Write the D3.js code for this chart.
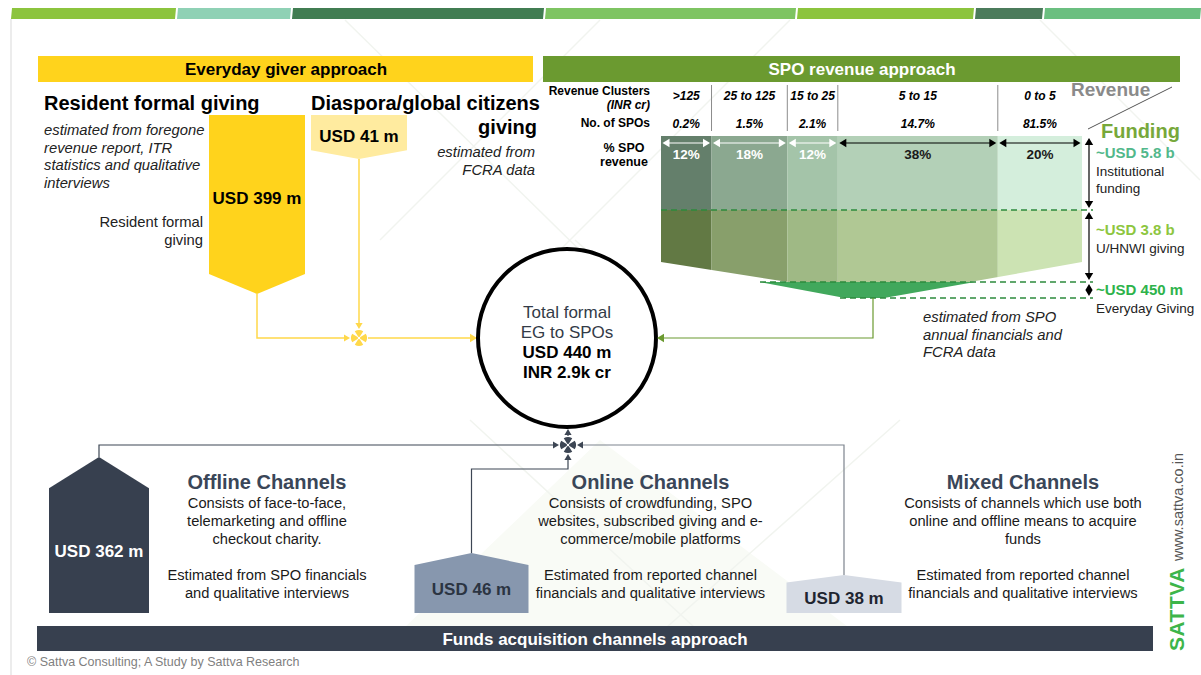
<!DOCTYPE html>
<html>
<head>
<meta charset="utf-8">
<script src="https://cdn.jsdelivr.net/npm/d3@7"></script>
<style>
body { margin: 0; background: #fff; }
svg text { font-family: "Liberation Sans", Arial, sans-serif; }
</style>
</head>
<body>
<script>
// ---- data ----
var egSources = ['Resident formal giving', 'Diaspora/global citizens giving'];
var egValues = [399, 41];
var clusters = ['>125', '25 to 125', '15 to 25', '5 to 15', '0 to 5'];
var spoShare = [0.2, 1.5, 2.1, 14.7, 81.5];
var revenueShare = [12, 18, 12, 38, 20];
var fundingLabels = ['~USD 5.8 b', '~USD 3.8 b', '~USD 450 m'];
var fundingNames = [['Institutional', 'funding'], ['U/HNWI giving'], ['Everyday Giving']];
var fundingValues = [5800, 3800, 450];
var channels = ['Offline Channels', 'Online Channels', 'Mixed Channels'];
var channelValues = [362, 46, 38];
var channelDesc = [
  ['Consists of face-to-face,', 'telemarketing and offline', 'checkout charity.', '', 'Estimated from SPO financials', 'and qualitative interviews'],
  ['Consists of crowdfunding, SPO', 'websites, subscribed giving and e-', 'commerce/mobile platforms', '', 'Estimated from reported channel', 'financials and qualitative interviews'],
  ['Consists of channels which use both', 'online and offline means to acquire', 'funds', '', 'Estimated from reported channel', 'financials and qualitative interviews']
];
var totalLines = ['Total formal', 'EG to SPOs', 'USD 440 m', 'INR 2.9k cr'];

// ---- layout ----
var W = 1201, H = 675;
var svg = d3.select('body').append('svg')
  .attr('width', W)
  .attr('height', H);

var line = d3.line();

function arrowHead(g, x, y, dir, color, s) {
  s = s || 6;
  var w = s * 0.6, pts;
  if (dir === 'r') pts = [[x, y], [x - s, y - w], [x - s, y + w]];
  if (dir === 'l') pts = [[x, y], [x + s, y - w], [x + s, y + w]];
  if (dir === 'u') pts = [[x, y], [x - w, y + s], [x + w, y + s]];
  if (dir === 'd') pts = [[x, y], [x - w, y - s], [x + w, y - s]];
  g.append('path').attr('d', line(pts) + 'Z').attr('fill', color);
}

function junction(g, cx, cy, color) {
  var arc = d3.arc().innerRadius(1.2).outerRadius(8);
  [0, 90, 180, 270].forEach(function(a) {
    g.append('path')
      .attr('transform', 'translate(' + cx + ',' + cy + ')')
      .attr('d', arc({startAngle: (a - 32) * Math.PI / 180, endAngle: (a + 32) * Math.PI / 180}))
      .attr('fill', color);
  });
}

function textLines(g, lines, x, y, step, anchor, attrs) {
  var t = g.append('text').attr('text-anchor', anchor);
  Object.keys(attrs).forEach(function(k) { t.style(k, attrs[k]); });
  lines.forEach(function(l, i) {
    t.append('tspan').attr('x', x).attr('y', y + i * step).text(l);
  });
  return t;
}

// background decoration
var bg = svg.append('g');
bg.append('path').attr('d', line([[380, 651], [600, 440], [880, 651]]) + 'Z').attr('fill', '#f9fbf6');
[[[345, 20], [600, 270]], [[600, 20], [380, 240]], [[790, 20], [560, 250]], [[1040, 20], [1200, 180]],
 [[470, 420], [720, 651]], [[900, 420], [640, 651]], [[575, 240], [620, 280]]].forEach(function(p) {
  bg.append('path').attr('d', line(p)).attr('stroke', '#f1f4ef').attr('stroke-width', 1.5).attr('fill', 'none');
});

// top stripe + frame
var stripeStops = [11, 176, 291, 544, 796, 974, 1043, 1201];
var stripeColors = ['#8cc43e', '#8fd1b5', '#417d52', '#7ec462', '#8cc43e', '#4b7b5b', '#6bbf80'];
stripeColors.forEach(function(c, i) {
  var x0 = stripeStops[i] + (i ? 1 : 0), x1 = stripeStops[i + 1] - 1;
  svg.append('path').attr('d', line([[x0 + 1, 8], [x1 + 1, 8], [x1, 19], [x0, 19]]) + 'Z').attr('fill', c);
});
svg.append('line').attr('x1', 11).attr('x2', 11).attr('y1', 19).attr('y2', H)
  .attr('stroke', '#d9d9d9').attr('stroke-width', 1);

// ===== Everyday giver approach =====
var eg = svg.append('g');
eg.append('rect').attr('x', 38).attr('y', 56).attr('width', 495).attr('height', 26).attr('fill', '#ffd31c');
eg.append('text').attr('x', 286).attr('y', 75).attr('text-anchor', 'middle')
  .style('font-weight', 'bold').style('font-size', '17px').text('Everyday giver approach');

eg.append('text').attr('x', 44).attr('y', 110).style('font-weight', 'bold').style('font-size', '20px').text(egSources[0]);
textLines(eg, ['estimated from foregone', 'revenue report, ITR', 'statistics and qualitative', 'interviews'],
  44, 135, 17.5, 'start', {'font-style': 'italic', 'font-size': '14.8px', 'fill': '#222'});
textLines(eg, ['Resident formal', 'giving'], 203, 227, 18, 'end', {'font-size': '14.8px', 'fill': '#222'});

eg.append('text').attr('x', 311).attr('y', 110).style('font-weight', 'bold').style('font-size', '20px').text('Diaspora/global citizens');
eg.append('text').attr('x', 537).attr('y', 134).attr('text-anchor', 'end').style('font-weight', 'bold').style('font-size', '20px').text('giving');
textLines(eg, ['estimated from', 'FCRA data'], 535, 157, 18, 'end', {'font-style': 'italic', 'font-size': '14.8px', 'fill': '#222'});

var egH = d3.scaleLinear().domain([41, 399]).range([44, 179]);
var egLeft = [209, 311], egW = 96, egTop = 115, egFill = ['#ffd31c', '#ffeb9f'];
var egTips = [];
egValues.forEach(function(v, i) {
  var h = egH(v), x0 = egLeft[i], x1 = x0 + egW, cx = x0 + egW / 2;
  var depth = Math.min(20, 0.2 * h), sh = egTop + h - depth;
  eg.append('path').attr('d', line([[x0, egTop], [x1, egTop], [x1, sh], [cx, egTop + h], [x0, sh]]) + 'Z')
    .attr('fill', egFill[i]);
  eg.append('text').attr('x', cx).attr('y', (egTop + sh) / 2 + 9).attr('text-anchor', 'middle')
    .style('font-weight', 'bold').style('font-size', '17px').text('USD ' + v + ' m');
  egTips.push([cx, egTop + h]);
});

// yellow connectors
var jY = 338, jX = egTips[1][0];
var yel = '#ffd84a';
eg.append('path').attr('d', line([egTips[0], [egTips[0][0], jY], [jX - 11, jY]]))
  .attr('fill', 'none').attr('stroke', yel).attr('stroke-width', 1.5);
arrowHead(eg, jX - 9, jY, 'r', yel, 6);
eg.append('path').attr('d', line([egTips[1], [jX, jY - 11]]))
  .attr('fill', 'none').attr('stroke', yel).attr('stroke-width', 1.5);
arrowHead(eg, jX, jY - 9, 'd', yel, 6);
junction(eg, jX, jY, yel);

// ===== centre circle =====
var cX = 567, cY = 338, cR = 89;
eg.append('path').attr('d', line([[jX + 9, jY], [cX - cR - 6, jY]])).attr('stroke', yel).attr('stroke-width', 1.5);
arrowHead(eg, cX - cR - 1, jY, 'r', yel, 7);

var ctr = svg.append('g');
ctr.append('circle').attr('cx', cX).attr('cy', cY).attr('r', cR)
  .attr('fill', '#fff').attr('stroke', '#000').attr('stroke-width', 4);
totalLines.forEach(function(t, i) {
  ctr.append('text').attr('x', cX).attr('y', 318 + i * 20).attr('text-anchor', 'middle')
    .style('font-size', '17px')
    .style('font-weight', i > 1 ? 'bold' : 'normal')
    .style('fill', i > 1 ? '#000' : '#333b47')
    .text(t);
});

// ===== SPO revenue approach =====
var spo = svg.append('g');
spo.append('rect').attr('x', 543).attr('y', 56).attr('width', 637).attr('height', 26).attr('fill', '#6b9a30');
spo.append('text').attr('x', 862).attr('y', 75).attr('text-anchor', 'middle')
  .style('font-weight', 'bold').style('font-size', '17px').style('fill', '#fff').text('SPO revenue approach');

spo.append('text').attr('x', 650).attr('y', 95).attr('text-anchor', 'end')
  .style('font-weight', 'bold').style('font-size', '12px').text('Revenue Clusters');
spo.append('text').attr('x', 650).attr('y', 109).attr('text-anchor', 'end')
  .style('font-weight', 'bold').style('font-style', 'italic').style('font-size', '12px').text('(INR cr)');
spo.append('text').attr('x', 650).attr('y', 127).attr('text-anchor', 'end')
  .style('font-weight', 'bold').style('font-size', '12px').text('No. of SPOs');
textLines(spo, ['% SPO', 'revenue'], 624, 152, 14, 'middle', {'font-weight': 'bold', 'font-size': '12.5px'});

var cum = d3.cumsum(revenueShare);
var fx = d3.scaleLinear().domain([0, 100]).range([661, 1082]);
var bounds = [0].concat(Array.from(cum));

// funding bands vertical scale
var fH = d3.scaleLinear().domain([450, 3800, 5800]).range([16, 72, 74]);
var fTop = 136;
var fY = [fTop];
fundingValues.forEach(function(v) { fY.push(fY[fY.length - 1] + fH(v)); });

// everyday giving wedge (behind bands)
spo.append('path').attr('d', line([[760, fY[2]], [975, fY[2]], [884, fY[3]], [845, fY[3]]]) + 'Z')
  .attr('fill', '#41a85c');

var upperCol = ['#647f6b', '#8ba890', '#a4c4a9', '#b3d0b7', '#d4eedc'];
var lowerCol = ['#627944', '#889f6b', '#9fb985', '#b0c894', '#cce3b3'];
var defs = svg.append('defs');
defs.append('clipPath').attr('id', 'lowClip').append('path')
  .attr('d', line([[fx(0), fY[1]], [fx(100), fY[1]], [fx(100), fY[2] - 20], [970, fY[2]], [788, fY[2]], [fx(0), fY[2] - 20]]) + 'Z');
var low = spo.append('g').attr('clip-path', 'url(#lowClip)');

clusters.forEach(function(c, i) {
  var x0 = fx(bounds[i]), x1 = fx(bounds[i + 1]), cx = (x0 + x1) / 2;
  spo.append('rect').attr('x', x0).attr('y', fY[0]).attr('width', x1 - x0).attr('height', fY[1] - fY[0]).attr('fill', upperCol[i]);
  low.append('rect').attr('x', x0).attr('y', fY[1]).attr('width', x1 - x0).attr('height', fY[2] - fY[1]).attr('fill', lowerCol[i]);
  spo.append('text').attr('x', cx).attr('y', 100).attr('text-anchor', 'middle')
    .style('font-weight', 'bold').style('font-style', 'italic').style('font-size', '12px').text(c);
  spo.append('text').attr('x', cx).attr('y', 128).attr('text-anchor', 'middle')
    .style('font-weight', 'bold').style('font-style', 'italic').style('font-size', '12px').text(spoShare[i] + '%');
  if (i > 0) {
    spo.append('line').attr('x1', x0).attr('x2', x0).attr('y1', 85).attr('y2', 131)
      .attr('stroke', '#8c8c8c').attr('stroke-width', 1);
  }
  var col = i < 3 ? '#fff' : '#000';
  spo.append('line').attr('x1', x0 + 3).attr('x2', x1 - 3).attr('y1', 143).attr('y2', 143)
    .attr('stroke', col).attr('stroke-width', 1.2);
  arrowHead(spo, x0 + 1.5, 143, 'l', col, 7);
  arrowHead(spo, x1 - 1.5, 143, 'r', col, 7);
  spo.append('text').attr('x', cx).attr('y', 159).attr('text-anchor', 'middle')
    .style('font-weight', 'bold').style('font-size', '13.5px').style('fill', i < 3 ? '#fff' : '#1a1a1a')
    .text(revenueShare[i] + '%');
});

// dashed band separators
var dashStart = [fx(0), 760, 840];
[1, 2, 3].forEach(function(k, j) {
  spo.append('line').attr('x1', dashStart[j]).attr('x2', 1093).attr('y1', fY[k]).attr('y2', fY[k])
    .attr('stroke', '#2c8a3c').attr('stroke-width', 1.5).attr('stroke-dasharray', '6,4');
});

// vertical dimension arrows
var ax = 1089;
[0, 1].forEach(function(k) {
  spo.append('line').attr('x1', ax).attr('x2', ax).attr('y1', fY[k] + 4).attr('y2', fY[k + 1] - 4)
    .attr('stroke', '#000').attr('stroke-width', 1.2);
  arrowHead(spo, ax, fY[k] + 2, 'u', '#000', 7);
  arrowHead(spo, ax, fY[k + 1] - 2, 'd', '#000', 7);
});
arrowHead(spo, ax, fY[2] + 2, 'u', '#000', 6);
arrowHead(spo, ax, fY[3] - 2, 'd', '#000', 6);

// Revenue / Funding labels
spo.append('text').attr('x', 1071).attr('y', 96).style('font-weight', 'bold').style('font-size', '19px')
  .style('fill', '#8a8a8a').text('Revenue');
spo.append('line').attr('x1', 1088).attr('y1', 129).attr('x2', 1172).attr('y2', 87)
  .attr('stroke', '#555').attr('stroke-width', 1);
spo.append('text').attr('x', 1101).attr('y', 138).style('font-weight', 'bold').style('font-size', '20px')
  .style('fill', '#77a83a').text('Funding');

var fundCol = ['#52b88b', '#8dc63f', '#2eb34b'];
var fundLabelY = [158, 235, 295];
fundingLabels.forEach(function(l, i) {
  spo.append('text').attr('x', 1096).attr('y', fundLabelY[i]).style('font-weight', 'bold').style('font-size', '15px')
    .style('fill', fundCol[i]).text(l);
  textLines(spo, fundingNames[i], 1096, fundLabelY[i] + 17.5, 17, 'start', {'font-size': '13.5px', 'fill': '#222'});
});

textLines(spo, ['estimated from SPO', 'annual financials and', 'FCRA data'], 923, 322, 17.5, 'start',
  {'font-style': 'italic', 'font-size': '14.8px', 'fill': '#222'});

// green connector to circle
var gr = '#6b9a30';
spo.append('path').attr('d', line([[873, fY[3]], [873, cY], [cX + cR + 6, cY]]))
  .attr('fill', 'none').attr('stroke', gr).attr('stroke-width', 1.2);
arrowHead(spo, cX + cR + 1, cY, 'l', gr, 7);

// ===== Funds acquisition channels =====
var ch = svg.append('g');
var chX = d3.scalePoint().domain(channels).range([99, 844]);
var chH = d3.scaleLinear().domain([38, 46, 362]).range([38, 60, 156]);
var chW = [100, 114, 115];
var chFill = ['#37404f', '#8797ae', '#d6dbe4'];
var chText = ['#fff', '#2b3442', '#1f2530'];
var chBase = 613;
var jbX = 568, jbY = 445, dark = '#3d4654';

channels.forEach(function(c, i) {
  var cx = chX(c), h = chH(channelValues[i]), hw = chW[i] / 2;
  var apex = chBase - h, sh = apex + 0.2 * h;
  ch.append('path').attr('d', line([[cx - hw, chBase], [cx - hw, sh], [cx, apex], [cx + hw, sh], [cx + hw, chBase]]) + 'Z')
    .attr('fill', chFill[i]);
  ch.append('text').attr('x', cx).attr('y', (sh + chBase) / 2 + 6).attr('text-anchor', 'middle')
    .style('font-weight', 'bold').style('font-size', '17px').style('fill', chText[i])
    .text('USD ' + channelValues[i] + ' m');
  var tx = cx + (i === 0 ? 168 : 179);
  ch.append('text').attr('x', tx).attr('y', 489).attr('text-anchor', 'middle')
    .style('font-weight', 'bold').style('font-size', '20px').style('fill', '#3a4658').text(c);
  textLines(ch, channelDesc[i], tx, 508, 18, 'middle', {'font-size': '14.7px', 'fill': '#1a1a1a'});

  // connectors
  var p;
  if (i === 0) p = [[cx, apex], [cx, jbY], [jbX - 11, jbY]];
  if (i === 1) p = [[cx, apex], [cx, 469], [jbX, 469], [jbX, jbY + 11]];
  if (i === 2) p = [[cx, apex], [cx, jbY], [jbX + 11, jbY]];
  ch.append('path').attr('d', line(p)).attr('fill', 'none')
    .attr('stroke', i === 2 ? '#7d848e' : dark).attr('stroke-width', 1.2);
});
arrowHead(ch, jbX - 9, jbY, 'r', dark, 6);
arrowHead(ch, jbX + 9, jbY, 'l', dark, 6);
arrowHead(ch, jbX, jbY + 9, 'u', dark, 6);
junction(ch, jbX, jbY, dark);
ch.append('line').attr('x1', jbX).attr('x2', jbX).attr('y1', jbY - 9).attr('y2', cY + cR + 6)
  .attr('stroke', dark).attr('stroke-width', 1.2);
arrowHead(ch, jbX, cY + cR + 2, 'u', dark, 6);

ch.append('rect').attr('x', 37).attr('y', 626).attr('width', 1116).attr('height', 25).attr('fill', '#37404f');
ch.append('text').attr('x', 595).attr('y', 645).attr('text-anchor', 'middle')
  .style('font-weight', 'bold').style('font-size', '17px').style('fill', '#fff').text('Funds acquisition channels approach');

// footer and logo
svg.append('text').attr('x', 27).attr('y', 666).style('font-size', '12.5px').style('fill', '#7f7f7f')
  .text('\u00a9 Sattva Consulting; A Study by Sattva Research');
svg.append('text').attr('transform', 'translate(1184,651) rotate(-90)')
  .style('font-weight', 'bold').style('font-size', '21px').style('fill', '#3db54a').style('letter-spacing', '0.5px').text('SATTVA');
svg.append('text').attr('transform', 'translate(1183,561) rotate(-90)')
  .style('font-size', '14.5px').style('fill', '#555').text('www.sattva.co.in');
</script>
</body>
</html>
